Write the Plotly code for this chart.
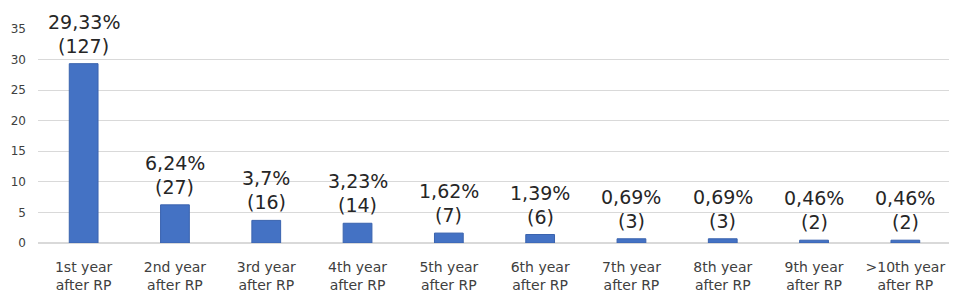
import plotly.graph_objects as go

categories = ["1st year<br>after RP", "2nd year<br>after RP", "3rd year<br>after RP", "4th year<br>after RP",
              "5th year<br>after RP", "6th year<br>after RP", "7th year<br>after RP", "8th year<br>after RP",
              "9th year<br>after RP", ">10th year<br>after RP"]
percent_values = [29.33, 6.24, 3.7, 3.23, 1.62, 1.39, 0.69, 0.69, 0.46, 0.46]
percent_labels = ["29,33%", "6,24%", "3,7%", "3,23%", "1,62%", "1,39%", "0,69%", "0,69%", "0,46%", "0,46%"]
counts = [127, 27, 16, 14, 7, 6, 3, 3, 2, 2]
y_ticks = [0, 5, 10, 15, 20, 25, 30, 35]

FONT = "DejaVu Sans"

fig = go.Figure(go.Bar(
    x=categories, y=percent_values,
    marker=dict(color="#4472C4", line=dict(color="#3A63AE", width=1)),
    hoverinfo="skip",
))

for cat, val, p, c in zip(categories, percent_values, percent_labels, counts):
    fig.add_annotation(
        x=cat, y=val, xref="x", yref="y",
        text=f"({c})", showarrow=False,
        yanchor="bottom", xanchor="center", yshift=6, borderpad=0,
        font=dict(family=FONT, size=19, color="#262626"),
    )
    fig.add_annotation(
        x=cat, y=val, xref="x", yref="y",
        text=p, showarrow=False,
        yanchor="bottom", xanchor="center", yshift=30, borderpad=0,
        font=dict(family=FONT, size=19, color="#262626"),
    )

# page body adds an 8px margin, so the figure is sized to fill the rest of the window
fig.update_layout(
    width=949, height=292,
    margin=dict(l=30, r=6, t=21, b=57),
    plot_bgcolor="white", paper_bgcolor="white",
    bargap=0.685, showlegend=False,
    font=dict(family=FONT, size=13, color="#404040"),
)
fig.update_yaxes(range=[0, 35], tickvals=y_ticks, showgrid=True, gridcolor="#D9D9D9",
                 gridwidth=1, zeroline=True, zerolinecolor="#D9D9D9", showline=False,
                 tickfont=dict(family=FONT, size=12, color="#404040"), ticks="",
                 ticklabelstandoff=11, automargin=False)
fig.update_xaxes(showgrid=False, showline=False, ticks="", automargin=False,
                 ticklabelstandoff=14,
                 tickfont=dict(family=FONT, size=14, color="#404040"), tickangle=0)

fig.write_html("out.html")
